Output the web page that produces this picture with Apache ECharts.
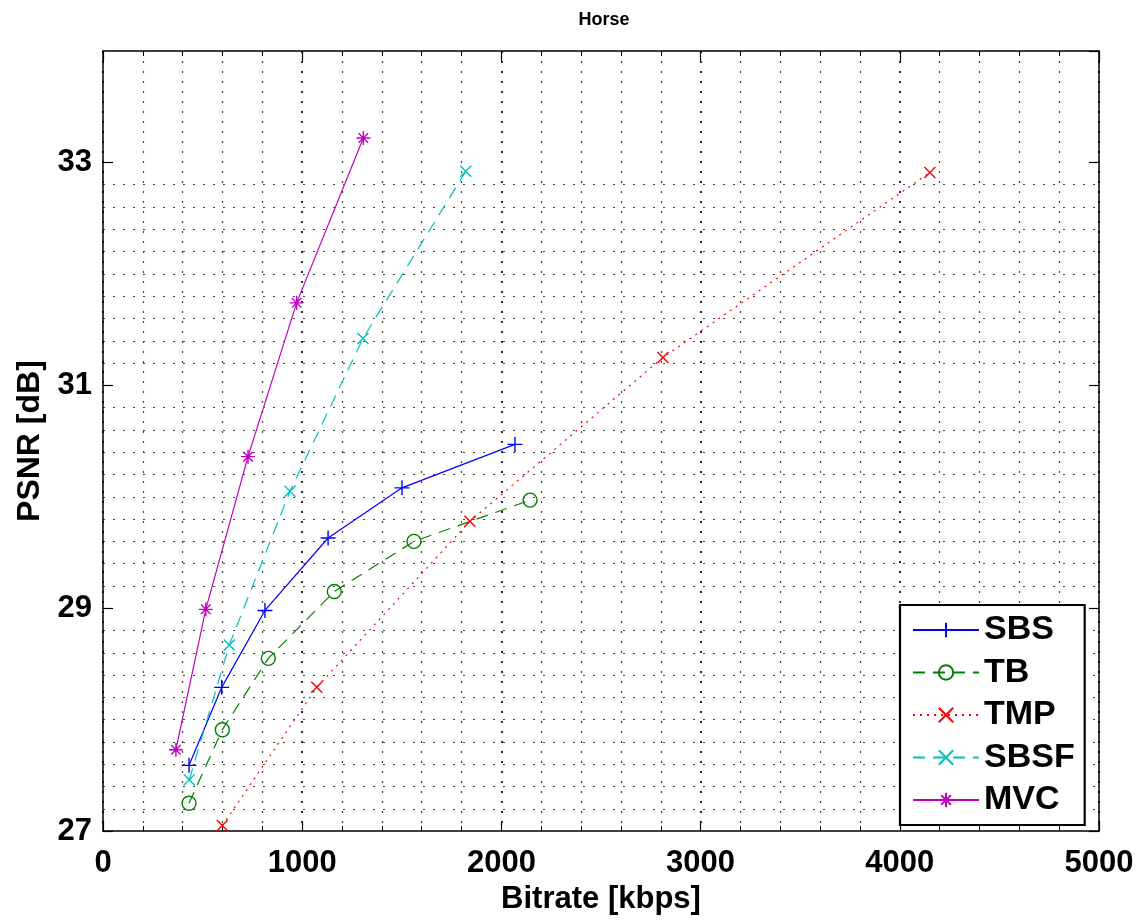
<!DOCTYPE html>
<html><head><meta charset="utf-8">
<script src="https://cdn.jsdelivr.net/npm/echarts@6/dist/echarts.min.js"></script>
<style>html,body{margin:0;padding:0;background:#fff}#c{width:1145px;height:920px}</style>
</head><body><div id="c"></div>
<script>
// ---- data ----
const chartTitle = 'Horse';
const xName = 'Bitrate [kbps]';
const yName = 'PSNR [dB]';
const seriesNames = ['SBS', 'TB', 'TMP', 'SBSF', 'MVC'];
const sbsX  = [432, 596, 813, 1130, 1501, 2068];
const sbsY  = [27.59, 28.29, 28.98, 29.63, 30.08, 30.47];
const tbX   = [432, 599, 830, 1161, 1561, 2144];
const tbY   = [27.25, 27.91, 28.55, 29.15, 29.60, 29.97];
const tmpX  = [599, 1073, 1842, 2811, 4151];
const tmpY  = [27.05, 28.29, 29.78, 31.25, 32.91];
const sbsfX = [433, 634, 939, 1305, 1821];
const sbsfY = [27.46, 28.67, 30.05, 31.42, 32.92];
const mvcX  = [366, 516, 728, 972, 1307];
const mvcY  = [27.73, 28.99, 30.36, 31.74, 33.22];
const xMin = 0, xMax = 5000, xStep = 1000, xMinorSplit = 5;
const yMin = 27, yMax = 34, yStep = 2, yMinorStep = 0.2;

// ---- styles ----
const FONT = '"Liberation Sans", Arial, Helvetica, sans-serif';
const SYM = {
  plus: 'path://M5 0L5 10M0 5L10 5',
  cross: 'path://M0 0L10 10M10 0L0 10',
  star: 'path://M5 0L5 10M0 5L10 5M1.6 1.6L8.4 8.4M8.4 1.6L1.6 8.4'
};
const styles = [
  {color: '#0000ff', type: 'solid', symbol: SYM.plus, size: 15},
  {color: '#008000', type: [12, 8], symbol: 'circle', size: 14, hollow: true},
  {color: '#ff0000', type: [2, 5], symbol: SYM.cross, size: 11},
  {color: '#00bfbf', type: [12, 8], symbol: SYM.cross, size: 11},
  {color: '#bf00bf', type: 'solid', symbol: SYM.star, size: 14}
];
const seriesData = [[sbsX, sbsY], [tbX, tbY], [tmpX, tmpY], [sbsfX, sbsfY], [mvcX, mvcY]];

// minor horizontal grid colours: only strictly between major ticks
const lastMajor = yMin + Math.floor((yMax - yMin) / yStep) * yStep;
const nMinorTicks = Math.round((yMax - yMin) / yMinorStep) + 1;
const minorColors = [];
for (let i = 0; i < nMinorTicks; i++) {
  const v = yMin + i * yMinorStep;
  const r = (v - yMin) / yStep;
  const isMajor = Math.abs(r - Math.round(r)) < 1e-6;
  minorColors.push(isMajor || v > lastMajor + 1e-6 ? 'rgba(0,0,0,0)' : '#444');
}

const series = seriesNames.map((name, i) => {
  const s = styles[i];
  const [xs, ys] = seriesData[i];
  return {
    name, type: 'line', xAxisIndex: 0, yAxisIndex: 0,
    data: xs.map((x, k) => [x, ys[k]]),
    symbol: s.symbol, symbolSize: s.size, showAllSymbol: true,
    lineStyle: {color: s.color, width: 1.2, type: s.type},
    itemStyle: {color: s.hollow ? 'rgba(0,0,0,0)' : s.color, borderColor: s.color, borderWidth: 1.4},
    emphasis: {disabled: true},
    z: 5
  };
});

const axisLineStyle = {lineStyle: {color: '#000', width: 1.5}};
const plainNum = v => String(v);
const option = {
  animation: false,
  backgroundColor: '#fff',
  title: {
    text: chartTitle, left: 599, top: 6, textAlign: 'center',
    textStyle: {fontFamily: '"Liberation Sans Narrow", "Liberation Sans", Arial, sans-serif', fontSize: 18, fontWeight: 'bold', color: '#000'}
  },
  grid: {left: 103, right: 46, top: 51, bottom: 83, containLabel: false},
  legend: {
    orient: 'vertical', left: 900, top: 605,
    backgroundColor: '#fff', borderColor: '#000', borderWidth: 2.2, borderRadius: 0,
    padding: [8, 10, 8, 12], itemWidth: 66, itemHeight: 18, itemGap: 8.5, itemTextGap: 7,
    textStyle: {fontFamily: FONT, fontSize: 34, fontWeight: 'bold', lineHeight: 34, color: '#000'},
    data: seriesNames, selectedMode: false, z: 10
  },
  xAxis: [
    {
      type: 'value', position: 'bottom', min: xMin, max: xMax, interval: xStep,
      name: xName, nameLocation: 'middle', nameGap: 52,
      nameTextStyle: {fontFamily: FONT, fontSize: 31, fontWeight: 'bold', color: '#000'},
      axisLine: {show: true, onZero: false, ...axisLineStyle},
      axisTick: {show: true, inside: true, length: 10, lineStyle: {color: '#000', width: 1.2}},
      minorTick: {show: true, splitNumber: xMinorSplit, length: 5, lineStyle: {color: '#000', width: 1}},
      axisLabel: {fontFamily: FONT, fontSize: 31, fontWeight: 'bold', color: '#000', margin: 17, formatter: plainNum},
      splitLine: {show: true, lineStyle: {color: '#000', width: 1.7, type: [2, 8]}},
      minorSplitLine: {show: true, lineStyle: {color: '#444', width: 1.2, type: [2, 8]}}
    },
    {
      type: 'value', position: 'top', min: xMin, max: xMax, interval: xStep,
      axisLine: {show: true, onZero: false, ...axisLineStyle},
      axisTick: {show: true, inside: true, length: 10, lineStyle: {color: '#000', width: 1.2}},
      minorTick: {show: true, splitNumber: xMinorSplit, length: 5, lineStyle: {color: '#000', width: 1}},
      axisLabel: {show: false}, splitLine: {show: false}
    }
  ],
  yAxis: [
    {
      type: 'value', position: 'left', min: yMin, max: yMax, interval: yStep,
      name: yName, nameLocation: 'middle', nameGap: 56, nameRotate: 90,
      nameTextStyle: {fontFamily: FONT, fontSize: 32, fontWeight: 'bold', color: '#000'},
      axisLine: {show: true, onZero: false, ...axisLineStyle},
      axisTick: {show: true, inside: true, length: 10, lineStyle: {color: '#000', width: 1.2}},
      axisLabel: {fontFamily: FONT, fontSize: 31, fontWeight: 'bold', color: '#000', margin: 11, showMaxLabel: false, formatter: plainNum},
      splitLine: {show: false}
    },
    {
      type: 'value', position: 'right', min: yMin, max: yMax, interval: yStep,
      axisLine: {show: true, onZero: false, ...axisLineStyle},
      axisTick: {show: true, inside: true, length: 10, lineStyle: {color: '#000', width: 1.2}},
      axisLabel: {show: false}, splitLine: {show: false}
    },
    {
      type: 'value', position: 'left', min: yMin, max: yMax, interval: yMinorStep,
      axisLine: {show: false}, axisTick: {show: false}, axisLabel: {show: false},
      splitLine: {show: true, showMinLine: true, showMaxLine: true, lineStyle: {color: minorColors, width: 1.2, type: [2, 8]}}
    }
  ],
  series
};
const chart = echarts.init(document.getElementById('c'), null, {renderer: 'canvas'});
chart.setOption(option);
</script>
</body></html>
